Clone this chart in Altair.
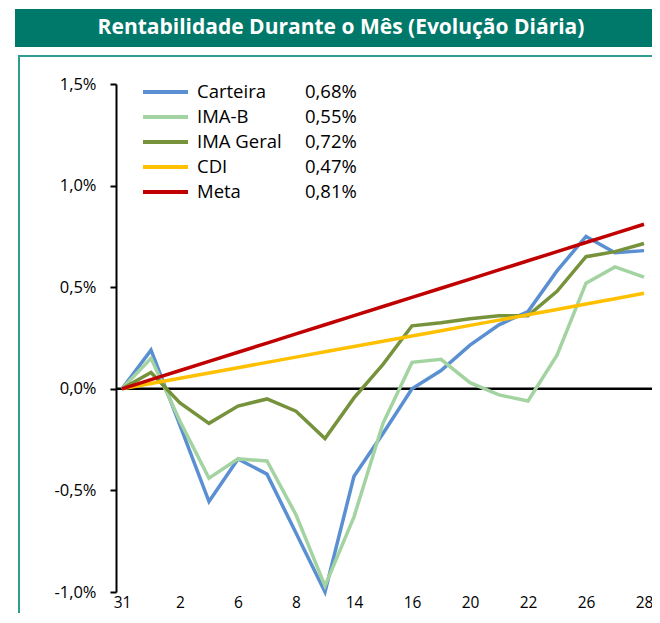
import json
import altair as alt
import pandas as pd

# ---- data ----
days = ["31", "1", "2", "5", "6", "7", "8", "9", "14", "15", "16", "19", "20", "21", "22", "23", "26", "27", "28"]
carteira = [0.00, 0.19, -0.18, -0.555, -0.345, -0.42, -0.71, -1.00, -0.43, -0.22, 0.00, 0.09, 0.215, 0.315, 0.38, 0.58, 0.75, 0.67, 0.68]
ima_b = [0.00, 0.15, -0.16, -0.44, -0.345, -0.355, -0.62, -0.97, -0.63, -0.17, 0.13, 0.145, 0.03, -0.03, -0.06, 0.165, 0.52, 0.60, 0.55]
ima_geral = [0.00, 0.08, -0.07, -0.17, -0.085, -0.05, -0.11, -0.245, -0.045, 0.12, 0.31, 0.325, 0.345, 0.36, 0.36, 0.48, 0.65, 0.675, 0.715]
cdi = [0.000, 0.026, 0.052, 0.078, 0.104, 0.130, 0.156, 0.182, 0.208, 0.234, 0.260, 0.286, 0.312, 0.338, 0.364, 0.390, 0.417, 0.443, 0.470]
meta = [0.000, 0.045, 0.090, 0.135, 0.180, 0.225, 0.270, 0.315, 0.360, 0.405, 0.450, 0.495, 0.540, 0.585, 0.630, 0.675, 0.720, 0.765, 0.810]
series_names = ["Carteira", "IMA-B", "IMA Geral", "CDI", "Meta"]
final_labels = ["0,68%", "0,55%", "0,72%", "0,47%", "0,81%"]
colors = ["#5A8FD2", "#A4D3A2", "#76933C", "#FFC000", "#C00000"]
title_text = "Rentabilidade Durante o Mês (Evolução Diária)"

all_series = [carteira, ima_b, ima_geral, cdi, meta]
rows = []
for name, vals in zip(series_names, all_series):
    for i, v in enumerate(vals):
        rows.append({"i": i, "v": v, "s": name})
df = pd.DataFrame(rows)

FONT = "Open Sans"
W, H = 536, 508

x_enc = alt.X(
    "i:Q",
    scale=alt.Scale(domain=[-6 / 29, (W - 6) / 29], nice=False, zero=False),
    axis=alt.Axis(
        values=list(range(0, 19, 2)),
        labelExpr=json.dumps(days) + "[datum.value]",
        domain=False, ticks=False, grid=False, title=None,
        labelPadding=3, labelFontSize=15.5, labelFont=FONT, labelColor="#000000",
        labelAngle=0, labelOverlap=False, labelFlush=False,
    ),
)
y_enc = alt.Y(
    "v:Q",
    scale=alt.Scale(domain=[-1.0, 1.5], nice=False, zero=False),
    axis=alt.Axis(
        values=[-1.0, -0.5, 0.0, 0.5, 1.0, 1.5],
        labelExpr="replace(replace(format(datum.value, '.1f'), '.', ','), '\u2212', '-') + '%'",
        domainColor="#000000", domainWidth=2, tickColor="#000000", tickWidth=2, tickSize=6,
        grid=False, title=None, labelFontSize=16.5, labelFont=FONT, labelColor="#000000",
        labelPadding=14,
    ),
)

layers = []

# frame and banner
frame = alt.Chart(pd.DataFrame({"t": [title_text]})).mark_rect(
    fillOpacity=0, stroke="#2E9C8E", strokeWidth=2
).encode(x=alt.value(-97), x2=alt.value(700), y=alt.value(-28), y2=alt.value(700))
banner = alt.Chart(pd.DataFrame({"t": [title_text]})).mark_rect(color="#00786A").encode(
    x=alt.value(-101), x2=alt.value(700), y=alt.value(-75), y2=alt.value(-37)
)
banner_text = alt.Chart(pd.DataFrame({"t": [title_text]})).mark_text(
    color="white", fontWeight="bold", fontSize=21, font=FONT, baseline="middle", align="center"
).encode(x=alt.value(225), y=alt.value(-56), text="t:N")
layers += [frame, banner, banner_text]

# zero line
zero = alt.Chart(pd.DataFrame({"v": [0.0], "i": [0]})).mark_rule(
    color="#000000", strokeWidth=2.5
).encode(y=y_enc, x=alt.value(0), x2=alt.value(W))
layers.append(zero)

for name, col in zip(series_names, colors):
    layers.append(
        alt.Chart(df).transform_filter(alt.datum.s == name)
        .mark_line(color=col, strokeWidth=3.5)
        .encode(x=x_enc, y=y_enc)
    )

# custom legend
leg = pd.DataFrame({"s": series_names, "val": final_labels, "c": colors})
leg_base = alt.Chart(leg).transform_window(k="row_number()").transform_calculate(
    py="(datum.k - 1) * 25 + 8"
)
leg_rule = leg_base.mark_rule(strokeWidth=4).encode(
    x=alt.value(27), x2=alt.value(72),
    y=alt.Y("py:Q", scale=None, axis=None),
    color=alt.Color("c:N", scale=None),
)
leg_name = leg_base.mark_text(
    align="left", baseline="middle", fontSize=18.5, font=FONT, color="#000000"
).encode(x=alt.value(81), y=alt.Y("py:Q", scale=None, axis=None), text="s:N")
leg_val = leg_base.mark_text(
    align="left", baseline="middle", fontSize=18.5, font=FONT, color="#000000"
).encode(x=alt.value(189), y=alt.Y("py:Q", scale=None, axis=None), text="val:N")
layers += [leg_rule, leg_name, leg_val]

chart = alt.layer(*layers).properties(
    width=W, height=H,
    autosize=alt.AutoSizeParams(type="none"),
    padding={"left": 108, "top": 76, "right": 0, "bottom": 21},
    background="white",
).configure_view(stroke=None)

chart.save("out.html", embed_options={"renderer": "svg", "actions": False})
